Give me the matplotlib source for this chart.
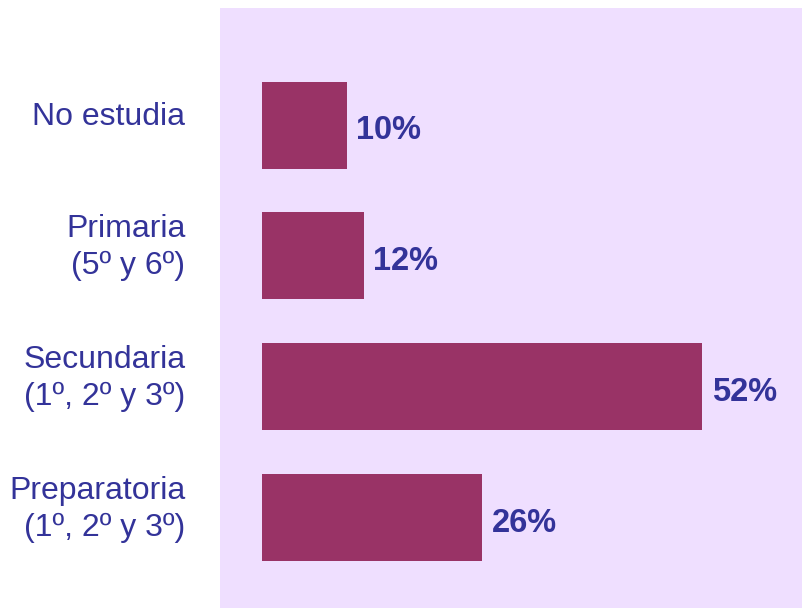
import matplotlib.pyplot as plt
from matplotlib.transforms import blended_transform_factory

categories = ["No estudia", "Primaria\n(5º y 6º)", "Secundaria\n(1º, 2º y 3º)", "Preparatoria\n(1º, 2º y 3º)"]
values = [10, 12, 52, 26]
value_labels = ["10%", "12%", "52%", "26%"]

plt.rcParams['font.family'] = ['Liberation Sans', 'DejaVu Sans']

bar_color = "#993366"
panel_color = "#EFDFFF"
text_color = "#333399"

fig = plt.figure(figsize=(8.03, 6.08), dpi=100)
ax = fig.add_axes([220 / 803, 0, 583 / 803, 600 / 608])
ax.set_facecolor(panel_color)

ypos = list(range(len(values)))
ax.barh(ypos, values, height=87 / 131, color=bar_color)

ax.set_xlim(-42 / 8.46, 541 / 8.46)
ax.set_ylim(3 + 90 / 131, -117 / 131)

for s in ax.spines.values():
    s.set_visible(False)
ax.set_xticks([])
ax.set_yticks([])

trans = blended_transform_factory(ax.transAxes, ax.transData)
for y, lab in zip(ypos, categories):
    ax.annotate(lab, xy=(0, y), xycoords=trans, xytext=(-25, 6),
                textcoords="offset points", ha="right", va="center",
                fontsize=23, color=text_color, linespacing=1.3)

for y, v, lab in zip(ypos, values, value_labels):
    ax.annotate(lab, xy=(v, y), xytext=(7, -4), textcoords="offset points",
                ha="left", va="center", fontsize=23.5, fontweight="bold",
                color=text_color)

fig.savefig("out.png", dpi=100)
